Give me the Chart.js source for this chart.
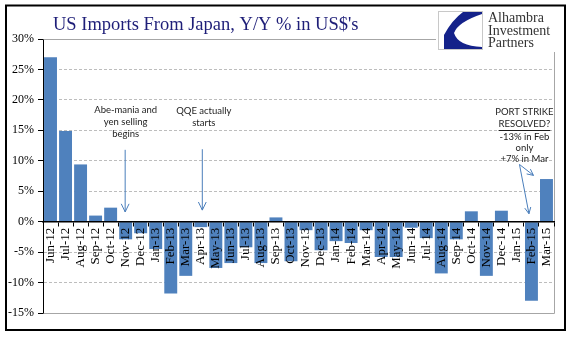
<!DOCTYPE html>
<html>
<head>
<meta charset="utf-8">
<style>
  html, body { margin: 0; padding: 0; background: #ffffff; }
  canvas { display: block; }
</style>
</head>
<body>
<canvas id="chart" width="577" height="341"></canvas>
<script src="https://cdn.jsdelivr.net/npm/chart.js@4/dist/chart.umd.min.js"></script>
<script>
// Monthly categories, June 2012 through March 2015
const months = [
  'Jun-12', 'Jul-12', 'Aug-12', 'Sep-12', 'Oct-12', 'Nov-12', 'Dec-12',
  'Jan-13', 'Feb-13', 'Mar-13', 'Apr-13', 'May-13', 'Jun-13', 'Jul-13',
  'Aug-13', 'Sep-13', 'Oct-13', 'Nov-13', 'Dec-13',
  'Jan-14', 'Feb-14', 'Mar-14', 'Apr-14', 'May-14', 'Jun-14', 'Jul-14',
  'Aug-14', 'Sep-14', 'Oct-14', 'Nov-14', 'Dec-14',
  'Jan-15', 'Feb-15', 'Mar-15'
];

// Year-over-year change in US imports from Japan, percent (US$ basis)
const yoyChange = [
  27.0, 14.9, 9.4, 1.0, 2.3, -2.9, -1.9,
  -4.5, -11.8, -8.9, -0.9, -7.6, -6.8, -4.2,
  -6.8, 0.7, -6.5, -1.4, -4.7,
  -3.2, -3.5, -1.4, -5.8, -5.8, -1.0, -2.7,
  -8.5, -2.9, 1.7, -8.9, 1.8,
  0.0, -13.0, 7.0
];

// Value axis range and tick spacing
const yMin = -15;
const yMax = 30;
const yStep = 5;

const chartTitle = "US Imports From Japan, Y/Y % in US$'s";
const logoLines = ['Alhambra', 'Investment', 'Partners'];

const barBlue = '#4f81bd';
const arrowBlue = '#4a7ebb';
const noteInk = '#1c1c1c';
const noteFont = '9.5px Lato';

// Small line with an open V head at its end
function drawArrow(ctx, x1, y1, x2, y2, head) {
  const ang = Math.atan2(y2 - y1, x2 - x1);
  ctx.beginPath();
  ctx.moveTo(x1, y1);
  ctx.lineTo(x2, y2);
  ctx.moveTo(x2 - head * Math.cos(ang - 0.45), y2 - head * Math.sin(ang - 0.45));
  ctx.lineTo(x2, y2);
  ctx.lineTo(x2 - head * Math.cos(ang + 0.45), y2 - head * Math.sin(ang + 0.45));
  ctx.stroke();
}

// Plot frame: grey box round the plot area (behind the bars)
const plotFrame = {
  id: 'plotFrame',
  beforeDatasetsDraw(chart) {
    const { ctx, chartArea: a } = chart;
    ctx.save();
    ctx.strokeStyle = '#a6a6a6';
    ctx.lineWidth = 1;
    ctx.beginPath();
    ctx.moveTo(Math.round(a.left) + 0.5, Math.round(a.top) + 0.5);
    ctx.lineTo(Math.round(a.right) + 0.5, Math.round(a.top) + 0.5);
    ctx.lineTo(Math.round(a.right) + 0.5, Math.round(a.bottom) + 0.5);
    ctx.lineTo(Math.round(a.left) + 0.5, Math.round(a.bottom) + 0.5);
    ctx.stroke();
    ctx.restore();
  }
};

// Title, logo, outer border and the call-out notes
const decorations = {
  id: 'decorations',
  afterDraw(chart) {
    const { ctx } = chart;
    const xs = chart.scales.x;
    const ys = chart.scales.y;

    ctx.save();

    // outer black border
    ctx.strokeStyle = '#000000';
    ctx.lineWidth = 2;
    ctx.strokeRect(6, 5.5, 559, 324.5);

    // title
    ctx.fillStyle = '#1e1e78';
    ctx.font = '18.5px "Liberation Serif"';
    ctx.textAlign = 'left';
    ctx.textBaseline = 'alphabetic';
    ctx.fillText(chartTitle, 53, 30);

    // logo block
    ctx.fillStyle = '#ffffff';
    ctx.fillRect(436, 7, 127, 45);
    ctx.strokeStyle = '#c8c8c8';
    ctx.lineWidth = 1;
    ctx.strokeRect(438.5, 11.5, 44, 38);
    ctx.fillStyle = '#14228a';
    ctx.beginPath();
    ctx.moveTo(463, 12);
    ctx.lineTo(482, 12);
    ctx.lineTo(482, 14);
    ctx.quadraticCurveTo(458, 22, 454, 33);
    ctx.quadraticCurveTo(458, 46, 482, 47);
    ctx.lineTo(482, 49);
    ctx.lineTo(444, 49);
    ctx.lineTo(444, 35);
    ctx.quadraticCurveTo(452, 20, 463, 12);
    ctx.closePath();
    ctx.fill();
    ctx.fillStyle = '#333333';
    ctx.font = '14px "Liberation Serif"';
    ctx.fillText(logoLines[0], 488, 22);
    ctx.fillText(logoLines[1], 488, 34.5);
    ctx.fillText(logoLines[2], 488, 47);

    // call-out notes
    ctx.fillStyle = noteInk;
    ctx.font = noteFont;
    ctx.textAlign = 'center';
    ctx.textBaseline = 'middle';

    const abeX = xs.getPixelForValue(5);
    ctx.fillText('Abe-mania and', abeX, ys.getPixelForValue(18.3));
    ctx.fillText('yen selling', abeX, ys.getPixelForValue(16.4));
    ctx.fillText('begins', abeX, ys.getPixelForValue(14.4));

    const qqeX = xs.getPixelForValue(10) + 3;
    ctx.fillText('QQE actually', qqeX, ys.getPixelForValue(18.2));
    ctx.fillText('starts', qqeX, ys.getPixelForValue(16.2));

    const portX = xs.getPixelForValue(31) + 8;
    const portLines = ['PORT STRIKE', 'RESOLVED?', '-13% in Feb', 'only', '+7% in Mar'];
    const portVals = [18.0, 16.0, 13.9, 12.1, 10.3];
    portLines.forEach((t, i) => ctx.fillText(t, portX, ys.getPixelForValue(portVals[i])));
    // underline on the question line
    const uw = ctx.measureText(portLines[1]).width;
    const uy = Math.round(ys.getPixelForValue(portVals[1]) + 6) + 0.5;
    ctx.strokeStyle = noteInk;
    ctx.lineWidth = 1;
    ctx.beginPath();
    ctx.moveTo(portX - uw / 2, uy);
    ctx.lineTo(portX + uw / 2, uy);
    ctx.stroke();

    // arrows
    ctx.strokeStyle = arrowBlue;
    ctx.lineWidth = 1;
    drawArrow(ctx, abeX - 0.5, ys.getPixelForValue(11.8), abeX - 0.5, ys.getPixelForValue(1.6), 9);
    drawArrow(ctx, qqeX - 1.5, ys.getPixelForValue(11.9), qqeX - 1.5, ys.getPixelForValue(1.9), 9);
    const sx = xs.getPixelForValue(32) - 12;
    const sy = ys.getPixelForValue(9.4);
    drawArrow(ctx, sx, sy, xs.getPixelForValue(33) - 13, ys.getPixelForValue(7.6), 7);
    drawArrow(ctx, sx, sy, xs.getPixelForValue(32) - 2.5, ys.getPixelForValue(1.3), 7);

    ctx.restore();
  }
};

new Chart(document.getElementById('chart'), {
  type: 'bar',
  data: {
    labels: months,
    datasets: [{
      data: yoyChange,
      backgroundColor: barBlue,
      borderWidth: 0,
      barPercentage: 0.86,
      categoryPercentage: 1.0
    }]
  },
  options: {
    responsive: false,
    devicePixelRatio: 1,
    animation: false,
    layout: { padding: { left: 0, top: 39, right: 23, bottom: 28 } },
    plugins: {
      legend: { display: false },
      title: { display: false },
      tooltip: { enabled: false }
    },
    scales: {
      x: {
        position: { y: 0 },
        afterFit(scale) { scale.height = 0; },
        grid: {
          display: true,
          drawOnChartArea: false,
          offset: true,
          tickLength: 4,
          tickColor: '#000000',
          color: '#000000',
          z: 1
        },
        border: { display: true, color: '#000000', width: 1.5, z: 1 },
        ticks: {
          autoSkip: false,
          maxRotation: 90,
          minRotation: 90,
          padding: 2,
          color: '#000000',
          font: { family: '"Liberation Serif"', size: 13 },
          z: 1
        }
      },
      y: {
        min: yMin,
        max: yMax,
        afterFit(scale) { scale.width = 43; },
        grid: {
          color: '#bdbdbd',
          lineWidth: 1,
          tickLength: 5,
          tickColor: '#000000'
        },
        border: { display: true, color: '#000000', width: 1, dash: [3, 2] },
        ticks: {
          stepSize: yStep,
          padding: 4,
          color: '#000000',
          font: { family: '"Liberation Serif"', size: 12 },
          callback: (v) => v + '%'
        }
      }
    }
  },
  plugins: [plotFrame, decorations]
});
</script>
</body>
</html>
